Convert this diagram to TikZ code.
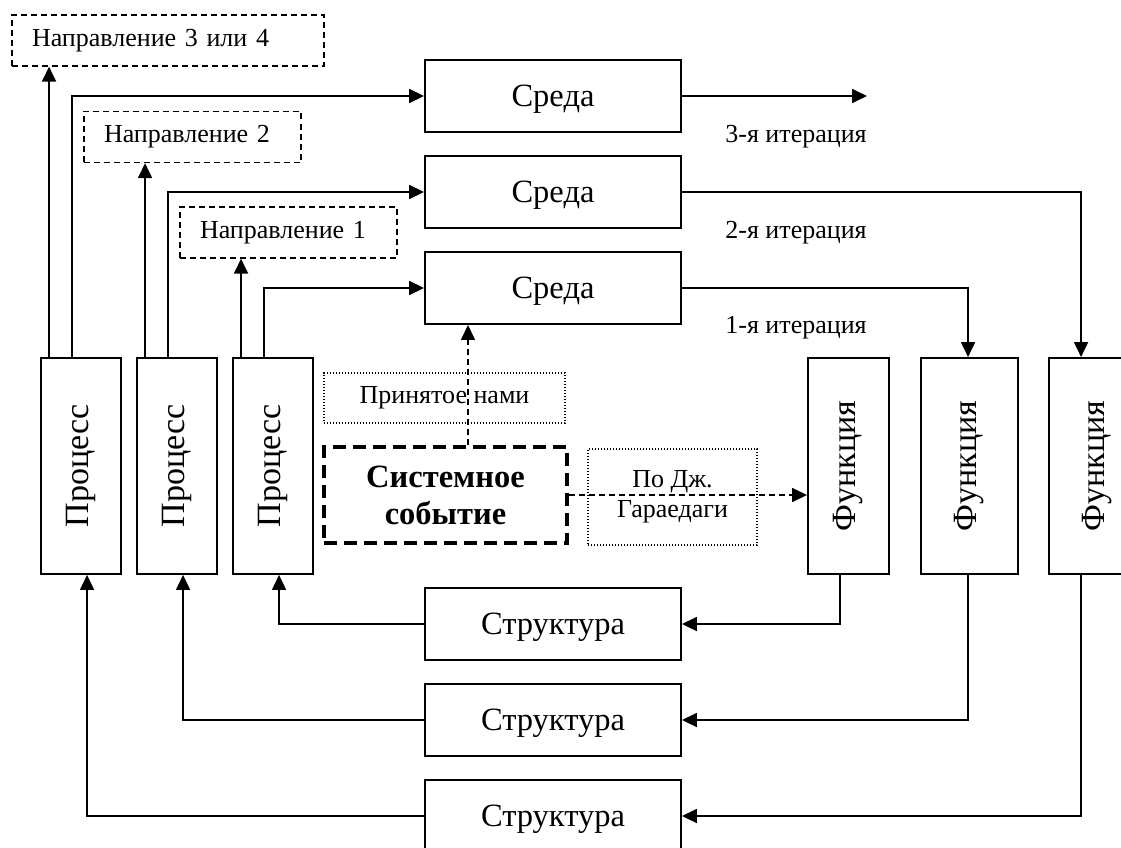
\documentclass[tikz,border=0pt]{standalone}
\usepackage{fontspec}
\setmainfont{Liberation Serif}
\usetikzlibrary{arrows.meta}

\newcommand{\bigtxt}{\fontsize{32.5}{37}\selectfont}
\newcommand{\vtxt}{\fontsize{34}{38}\selectfont}
\newcommand{\smalltxt}{\fontsize{26}{30}\selectfont}

\begin{document}
\begin{tikzpicture}[x=1pt, y=-1pt,
    box/.style={draw, line width=1.9pt, minimum width=256pt, minimum height=72pt, inner sep=0pt, text depth=0pt, font=\bigtxt},
    vbox/.style={draw, line width=1.9pt, minimum height=216pt, inner sep=0pt, font=\vtxt},
    dir/.style={draw, line width=1.3pt, dash pattern=on 6pt off 4pt, minimum height=51pt, inner xsep=20pt, align=left, font=\smalltxt},
    note/.style={draw, line width=1.1pt, dash pattern=on 1.2pt off 1.8pt, align=center, font=\smalltxt},
    event/.style={draw, line width=3.5pt, dash pattern=on 13pt off 7pt, align=center, font=\bigtxt\bfseries},
    lbl/.style={font=\smalltxt},
    arr/.style={-{Triangle[length=15pt, width=14pt]}, line width=1.8pt},
    darr/.style={-{Triangle[length=15pt, width=14pt]}, line width=1.5pt, dash pattern=on 6pt off 4pt}
]
\useasboundingbox (0,0) rectangle (1121,848);
\clip (0,0) rectangle (1121,848);

% directions
\node[dir, text width=272pt] (dir34) at (168,40.5) {Направление 3 или 4};
\node[dir, text width=177pt] (dir2) at (192.5,137) {Направление 2};
\node[dir, text width=177pt] (dir1) at (288.5,232.5) {Направление 1};

% environment
\node[box] (env3) at (553,96) {Среда};
\node[box] (env2) at (553,192) {Среда};
\node[box] (env1) at (553,288) {Среда};
\node[lbl] (it3) at (796,137) {3-я итерация};
\node[lbl] (it2) at (796,233) {2-я итерация};
\node[lbl] (it1) at (796,328) {1-я итерация};

% processes and functions
\node[vbox, minimum width=80pt] (proc1) at (81,466) {\rotatebox{90}{Процесс}};
\node[vbox, minimum width=80pt] (proc2) at (177,466) {\rotatebox{90}{Процесс}};
\node[vbox, minimum width=80pt] (proc3) at (273,466) {\rotatebox{90}{Процесс}};
\node[vbox, minimum width=81pt] (fun1) at (848.5,466) {\rotatebox{90}{Функция}};
\node[vbox, minimum width=97pt] (fun2) at (969.5,466) {\rotatebox{90}{Функция}};
\node[vbox, minimum width=97pt] (fun3) at (1097.5,466) {\rotatebox{90}{Функция}};

% event
\node[note, minimum width=241pt, minimum height=50pt] (ours) at (444.5,398) {Принятое нами};
\node[event, minimum width=243pt, minimum height=96pt] (event) at (445.5,495) {Системное\\событие};
\node[note, minimum width=169pt, minimum height=96pt] (gar) at (672.5,497) {По Дж.\\Гараедаги};

% structure
\node[box] (struct1) at (553,624) {Структура};
\node[box] (struct2) at (553,720) {Структура};
\node[box] (struct3) at (553,816) {Структура};

\coordinate (out3) at (867,96);

\draw[arr] ([xshift=9pt]proc1.north west) -- ([xshift=9pt]proc1.north west |- dir34.south);
\draw[arr] ([xshift=9pt]proc2.north west) -- ([xshift=9pt]proc2.north west |- dir2.south);
\draw[arr] ([xshift=9pt]proc3.north west) -- ([xshift=9pt]proc3.north west |- dir1.south);
\draw[arr] ([xshift=32pt]proc1.north west) |- (env3.west);
\draw[arr] ([xshift=32pt]proc2.north west) |- (env2.west);
\draw[arr] ([xshift=32pt]proc3.north west) |- (env1.west);

\draw[arr] (env3.east) -- (out3);
\draw[arr] (env2.east) -| ([xshift=33pt]fun3.north west);
\draw[arr] (env1.east) -| ([xshift=48pt]fun2.north west);

\draw[arr] ([xshift=33pt]fun1.south west) |- (struct1.east);
\draw[arr] ([xshift=48pt]fun2.south west) |- (struct2.east);
\draw[arr] ([xshift=33pt]fun3.south west) |- (struct3.east);
\draw[arr] (struct1.west) -| ([xshift=47pt]proc3.south west);
\draw[arr] (struct2.west) -| ([xshift=47pt]proc2.south west);
\draw[arr] (struct3.west) -| ([xshift=47pt]proc1.south west);

\draw[darr] ([xshift=22.5pt]event.north) -- ([xshift=22.5pt]event.north |- env1.south);
\draw[darr] (event.east) -- (event.east -| fun1.west);
\end{tikzpicture}
\end{document}
